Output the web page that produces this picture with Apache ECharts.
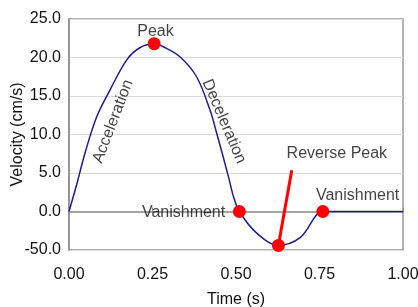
<!DOCTYPE html>
<html>
<head>
<meta charset="utf-8">
<script src="https://cdn.jsdelivr.net/npm/echarts@6/dist/echarts.min.js"></script>
<style>
  html, body { margin: 0; padding: 0; background: #fff; }
  #main { width: 418px; height: 307px; }
</style>
</head>
<body>
<div id="main"></div>
<script>
// velocity curve (time in s, velocity in cm/s)
var times = [0, 0.023, 0.048, 0.083, 0.123, 0.173, 0.213, 0.255, 0.282, 0.332, 0.382, 0.422, 0.442, 0.477, 0.492, 0.51, 0.562, 0.627, 0.692, 0.76, 0.8, 1.0];
var velocity = [0, 3.5, 7.6, 12.3, 15.8, 19.7, 21.3, 21.8, 21.4, 20.1, 17.5, 13.2, 10.2, 4.6, 2.0, 0, -2.8, -4.4, -3.4, 0, 0, 0];

// red key points
var keyTimes = [0.255, 0.51, 0.627, 0.76];
var keyVelocity = [21.8, 0, -4.4, 0];

// pointer line to "Reverse Peak"
var pointerTimes = [0.667, 0.627];
var pointerVelocity = [5.35, -4.4];

// annotations: text, time, velocity, rotation (deg)
var noteText = ["Peak", "Acceleration", "Deceleration", "Vanishment", "Vanishment", "Reverse Peak"];
var noteTimes = [0.259, 0.132, 0.464, 0.343, 0.864, 0.802];
var noteVelocity = [23.4, 11.7, 11.7, -0.13, 2.07, 7.5];
var noteRotate = [0, 69, -67, 0, 0, 0];

var yTicks = { "-5": "-50.0" }; // label as printed in the original

var FONT = "Liberation Sans";

function pairs(xs, ys) {
  var out = [];
  for (var i = 0; i < xs.length; i++) out.push([xs[i], ys[i]]);
  return out;
}

var notes = [];
for (var i = 0; i < noteText.length; i++) {
  notes.push({
    name: noteText[i],
    value: [noteTimes[i], noteVelocity[i]],
    label: { rotate: noteRotate[i] }
  });
}

var myChart = echarts.init(document.getElementById("main"));
var option = {
  animation: false,
  grid: {
    left: 69, right: 15, top: 19, bottom: 57,
    outerBoundsMode: "none",
    containLabel: false,
    show: true, borderColor: "#9a9a9a", borderWidth: 1.5
  },
  xAxis: {
    type: "value",
    min: 0, max: 1, interval: 0.25,
    name: "Time (s)",
    nameLocation: "middle",
    nameGap: 42,
    nameMoveOverlap: false,
    nameTextStyle: { fontFamily: FONT, fontSize: 16, color: "#111" },
    axisLine: { lineStyle: { color: "#8c8c8c", width: 1.5 } },
    axisTick: { show: true, inside: true, length: 4, lineStyle: { color: "#8c8c8c" } },
    axisLabel: {
      fontFamily: FONT, fontSize: 16, color: "#111", margin: 17,
      formatter: function (v) { return v.toFixed(2); }
    },
    splitLine: { show: false }
  },
  yAxis: {
    type: "value",
    min: -5, max: 25, interval: 5,
    name: "Velocity (cm/s)",
    nameLocation: "middle",
    nameGap: 43,
    nameMoveOverlap: false,
    nameTextStyle: { fontFamily: FONT, fontSize: 16, color: "#111" },
    axisLine: { show: true, lineStyle: { color: "#8c8c8c", width: 1.5 } },
    axisTick: { show: false },
    axisLabel: {
      fontFamily: FONT, fontSize: 16, color: "#111", margin: 8,
      formatter: function (v) { return yTicks[String(v)] || v.toFixed(1); }
    },
    splitLine: { show: true, lineStyle: { color: "#d9d9d9", width: 1 } }
  },
  series: [
    {
      type: "line",
      data: pairs(times, velocity),
      smooth: 0.35,
      symbol: "none",
      lineStyle: { color: "#1c1c96", width: 1.5 },
      z: 2
    },
    {
      type: "line",
      data: pairs(pointerTimes, pointerVelocity),
      symbol: "none",
      lineStyle: { color: "#ff0000", width: 3 },
      z: 3
    },
    {
      type: "scatter",
      data: pairs(keyTimes, keyVelocity),
      symbolSize: 13,
      itemStyle: { color: "#ff0000", opacity: 1 },
      z: 4
    },
    {
      type: "scatter",
      data: notes,
      symbolSize: 0,
      silent: true,
      label: {
        show: true,
        position: "inside",
        formatter: "{b}",
        fontFamily: FONT,
        fontSize: 16,
        color: "#111",
        align: "center",
        verticalAlign: "middle"
      },
      z: 5
    }
  ]
};
myChart.setOption(option);
</script>
</body>
</html>
